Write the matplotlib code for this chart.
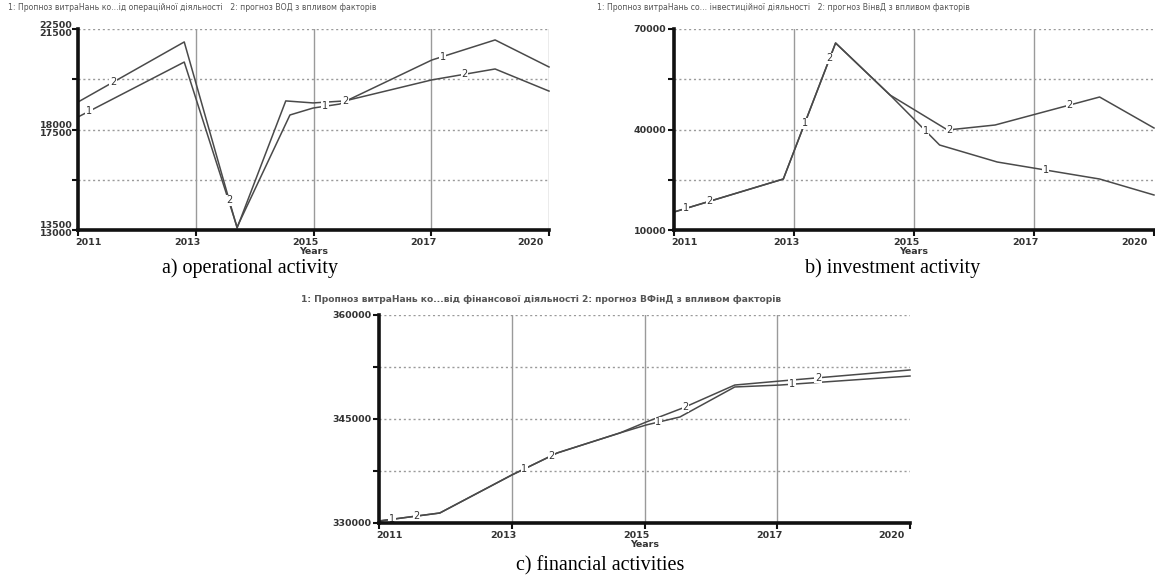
import numpy as np
import matplotlib
matplotlib.use("Agg")
import matplotlib.pyplot as plt
import matplotlib.transforms as mtransforms

plt.rcParams["font.family"] = ["DejaVu Sans"]

# ---------------- data ----------------
x_ticks = [2011, 2013.25, 2015.5, 2017.75, 2020]
x_tick_labels = ["2011", "2013", "2015", "2017", "2020"]

# a) operational activity
op_years_1 = [2011, 2013.03, 2014.04, 2015.05, 2015.49, 2016.0, 2017.76, 2018.97, 2020]
op_vals_1 = [18560, 21020, 13630, 18650, 18960, 19140, 21110, 22010, 20800]
op_years_2 = [2011, 2013.03, 2014.04, 2014.97, 2015.49, 2016.1, 2017.76, 2018.97, 2020]
op_vals_2 = [19230, 21920, 13590, 19280, 19190, 19280, 20220, 20710, 19720]
op_yticks = [13500, 15750, 18000, 20250, 22500]
op_ylabels_upper = {22500: "22500", 18000: "18000", 13500: "13500"}
op_ylabels_lower = {22500: "21500", 18000: "17500", 13500: "13000"}
op_label_pos_1 = [2011.21, 2015.72, 2017.97]
op_label_pos_2 = [2011.67, 2013.89, 2016.1, 2018.39]

# b) investment activity
inv_years_1 = [2011, 2013.05, 2014.03, 2015.05, 2015.98, 2017.06, 2018.98, 2020]
inv_vals_1 = [15370, 25220, 65820, 50300, 35370, 30300, 25220, 20450]
inv_years_2 = [2011, 2013.05, 2014.03, 2015.05, 2016.13, 2017.02, 2018.98, 2020]
inv_vals_2 = [15370, 25220, 65820, 50300, 39850, 41340, 49700, 40450]
inv_yticks = [10000, 25000, 40000, 55000, 70000]
inv_ylabels = ["10000", "", "40000", "", "70000"]
inv_label_pos_1 = [2011.22, 2013.45, 2015.72, 2017.97]
inv_label_pos_2 = [2011.67, 2013.92, 2016.17, 2018.42]

# c) financial activities
fin_years_1 = [2011, 2012.03, 2013.25, 2014.02, 2015.08, 2015.53, 2016.1, 2017.03, 2017.8, 2020]
fin_vals_1 = [330290, 331440, 336920, 340100, 342980, 344140, 345290, 349620, 349900, 351200]
fin_years_2 = [2011, 2012.03, 2013.25, 2014.02, 2015.08, 2015.53, 2016.15, 2017.03, 2017.8, 2020]
fin_vals_2 = [330290, 331440, 336920, 340100, 342980, 344570, 346590, 349900, 350480, 352070]
fin_yticks = [330000, 337500, 345000, 352500, 360000]
fin_ylabels = ["330000", "", "345000", "", "360000"]
fin_label_pos_1 = [2011.22, 2013.46, 2015.73, 2018.0]
fin_label_pos_2 = [2011.64, 2013.93, 2016.19, 2018.44]

titles = [
    "1: Пропноз витраНань ко...ід операційної діяльності   2: прогноз ВОД з впливом факторів",
    "1: Пропноз витраНань со... інвестиційної діяльності   2: прогноз ВінвД з впливом факторів",
    "1: Пропноз витраНань ко...від фінансової діяльності 2: прогноз ВФінД з впливом факторів",
]
captions = ["a) operational activity", "b) investment activity", "c) financial activities"]

# ---------------- figure ----------------
W, H = 1155, 578
fig = plt.figure(figsize=(W / 100, H / 100), dpi=100)
fig.patch.set_facecolor("white")

LINE_C = "#4a4a4a"
GRID_C = "#9a9a9a"
TEXT_C = "#333333"


def px_axes(left, top, right, bottom):
    return fig.add_axes([left / W, 1 - bottom / H, (right - left) / W, (bottom - top) / H])


def shift(artist, dx_px):
    artist.set_transform(artist.get_transform() +
                         mtransforms.ScaledTranslation(dx_px / 100, 0, fig.dpi_scale_trans))


def style_axes(ax, ylim, yticks, ylabels, right_grid=True):
    ax.set_xlim(2011, 2020)
    ax.set_ylim(*ylim)
    for s in ("top", "right"):
        ax.spines[s].set_visible(False)
    for s in ("left", "bottom"):
        ax.spines[s].set_linewidth(2.6)
        ax.spines[s].set_color("#111111")
        ax.spines[s].set_zorder(5)
    # dotted horizontal grid
    for yv in yticks[1:]:
        ax.axhline(yv, color=GRID_C, lw=1.0, ls=(0, (1.5, 2)), zorder=1)
    # solid vertical grid at the inner x ticks
    xs = x_ticks[1:] if right_grid else x_ticks[1:-1]
    for xv in xs:
        ax.axvline(xv, color=GRID_C, lw=1.0, zorder=1)
    ax.set_yticks(yticks)
    ax.set_yticklabels(ylabels)
    ax.set_xticks(x_ticks)
    ax.set_xticklabels(x_tick_labels)
    ax.tick_params(axis="both", direction="out", length=4, width=1.5, color="#111111",
                   labelsize=6.8, labelcolor=TEXT_C, pad=1.5)
    for lab in ax.get_xticklabels() + ax.get_yticklabels():
        lab.set_fontweight("bold")
    # x labels: first one starts at the axis, the others hang left of their tick
    labs = ax.get_xticklabels()
    labs[0].set_ha("left")
    shift(labs[0], -3)
    for lab in labs[1:-1]:
        lab.set_ha("right")
        shift(lab, 5)
    labs[-1].set_ha("right")
    shift(labs[-1], -6)
    ax.set_xlabel("Years", fontsize=6.8, fontweight="bold", color=TEXT_C, labelpad=0)


def draw_series(ax, yrs, vals, num, positions):
    ax.plot(yrs, vals, color=LINE_C, lw=1.1, zorder=3, clip_on=False)
    for p in positions:
        v = np.interp(p, yrs, vals)
        ax.text(p, v, num, fontsize=7, color=TEXT_C, ha="center", va="center", zorder=4,
                bbox=dict(boxstyle="square,pad=0.05", fc="white", ec="none"))


# a) operational activity
ax_a = px_axes(78, 29, 549, 230)
style_axes(ax_a, (13500, 22500), op_yticks, [""] * 5)
draw_series(ax_a, op_years_1, op_vals_1, "1", op_label_pos_1)
draw_series(ax_a, op_years_2, op_vals_2, "2", op_label_pos_2)
ytr = ax_a.get_yaxis_transform()
for yv, lab in op_ylabels_upper.items():
    ax_a.text(-0.012, yv, lab, transform=ytr + mtransforms.ScaledTranslation(0, 4 / 100, fig.dpi_scale_trans),
              ha="right", va="center", fontsize=6.8, fontweight="bold", color=TEXT_C)
for yv, lab in op_ylabels_lower.items():
    ax_a.text(-0.012, yv, lab, transform=ytr + mtransforms.ScaledTranslation(0, -4 / 100, fig.dpi_scale_trans),
              ha="right", va="center", fontsize=6.8, fontweight="bold", color=TEXT_C)

# b) investment activity
ax_b = px_axes(674, 29, 1154, 230)
style_axes(ax_b, (10000, 70000), inv_yticks, inv_ylabels, right_grid=False)
draw_series(ax_b, inv_years_1, inv_vals_1, "1", inv_label_pos_1)
draw_series(ax_b, inv_years_2, inv_vals_2, "2", inv_label_pos_2)

# c) financial activities
ax_c = px_axes(379, 315, 910, 523)
style_axes(ax_c, (330000, 360000), fin_yticks, fin_ylabels, right_grid=False)
draw_series(ax_c, fin_years_1, fin_vals_1, "1", fin_label_pos_1)
draw_series(ax_c, fin_years_2, fin_vals_2, "2", fin_label_pos_2)

# series titles above each chart
fig.text(8 / W, 1 - 8 / H, titles[0], fontsize=5.6, color="#555555", ha="left", va="center")
fig.text(597 / W, 1 - 8 / H, titles[1], fontsize=5.6, color="#555555", ha="left", va="center")
fig.text(301 / W, 1 - 300 / H, titles[2], fontsize=6.6, fontweight="bold", color="#555555", ha="left", va="center")

# panel captions
cap_kw = dict(fontsize=14.5, family=["Liberation Serif", "DejaVu Serif"], color="black", ha="center", va="center")
fig.text(250 / W, 1 - 268 / H, captions[0], **cap_kw)
fig.text(893 / W, 1 - 268 / H, captions[1], **cap_kw)
fig.text(600 / W, 1 - 566 / H, captions[2], **cap_kw)

fig.savefig("out.png", dpi=100, facecolor="white")
